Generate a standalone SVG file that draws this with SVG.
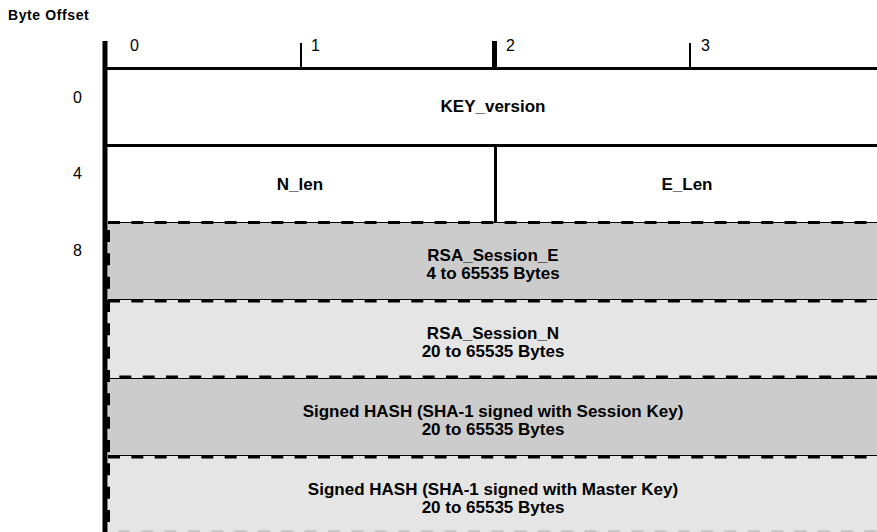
<svg xmlns="http://www.w3.org/2000/svg" width="877" height="532" viewBox="0 0 877 532">
<style>
.t{font-family:"Liberation Sans",Arial,sans-serif;font-size:17px;font-weight:bold;text-anchor:middle;fill:#000}
.n{font-family:"Liberation Sans",Arial,sans-serif;font-size:16px;fill:#000}
.solid{stroke:#000;stroke-width:3;fill:none}
.dash{stroke:#000;stroke-width:3;fill:none;stroke-dasharray:12 11.33}
.thin{stroke:#000;stroke-width:1;fill:none}
.dark{fill:#cccccc}
.light{fill:#e5e5e5}
</style>
<rect width="877" height="532" fill="#fff"/>
<text x="8" y="20" font-family="Liberation Sans,Arial,sans-serif" font-size="14" font-weight="bold" letter-spacing="0.6">Byte Offset</text>
<g id="scale">
<text class="n" x="130" y="51">0</text>
<text class="n" x="311" y="51">1</text>
<text class="n" x="506" y="51">2</text>
<text class="n" x="701" y="51">3</text>
<line x1="301" y1="43" x2="301" y2="68" stroke="#000" stroke-width="2"/>
<line x1="494.5" y1="41" x2="494.5" y2="68" stroke="#000" stroke-width="5"/>
<line x1="690" y1="43" x2="690" y2="68" stroke="#000" stroke-width="2"/>
<text class="n" x="73" y="103">0</text>
<text class="n" x="73" y="179">4</text>
<text class="n" x="73" y="256">8</text>
</g>
<g id="row0">
<text class="t" x="493" y="112">KEY_version</text>
</g>
<g id="row1">
<line x1="495.5" y1="145" x2="495.5" y2="222" stroke="#000" stroke-width="3"/>
<text class="t" x="300" y="190">N_len</text>
<text class="t" x="687" y="190">E_Len</text>
</g>
<g id="row2">
<rect class="dark" x="108" y="222" width="769" height="78"/>
<text class="t" x="493" y="261">RSA_Session_E</text>
<text class="t" x="493" y="279">4 to 65535 Bytes</text>
</g>
<g id="row3">
<rect class="light" x="108" y="300" width="769" height="78"/>
<text class="t" x="493" y="339">RSA_Session_N</text>
<text class="t" x="493" y="357">20 to 65535 Bytes</text>
</g>
<g id="row4">
<rect class="dark" x="108" y="378" width="769" height="78"/>
<text class="t" x="493" y="417">Signed HASH (SHA-1 signed with Session Key)</text>
<text class="t" x="493" y="435">20 to 65535 Bytes</text>
</g>
<g id="row5">
<rect class="light" x="108" y="456" width="769" height="76"/>
<text class="t" x="493" y="495">Signed HASH (SHA-1 signed with Master Key)</text>
<text class="t" x="493" y="513">20 to 65535 Bytes</text>
</g>
<g id="lines">
<line class="solid" x1="105" y1="68.5" x2="877" y2="68.5"/>
<line class="solid" x1="105" y1="145.5" x2="877" y2="145.5"/>
<line class="thin" x1="108" y1="222.5" x2="877" y2="222.5"/>
<line class="dash" x1="108" y1="222.5" x2="877" y2="222.5"/>
<line class="thin" x1="108" y1="299.5" x2="877" y2="299.5"/>
<line class="dash" x1="108" y1="301" x2="877" y2="301"/>
<line class="thin" x1="108" y1="378.5" x2="877" y2="378.5"/>
<line class="dash" x1="108" y1="377" x2="877" y2="377" stroke-dashoffset="12"/>
<line class="thin" x1="108" y1="455.5" x2="877" y2="455.5"/>
<line class="dash" x1="108" y1="457" x2="877" y2="457"/>
<line x1="108" y1="531" x2="877" y2="531" stroke="#c8c8c8" stroke-width="2" stroke-dasharray="12 11.33" stroke-dashoffset="-10"/>
<line class="dash" x1="108.5" y1="222" x2="108.5" y2="532" stroke-dashoffset="-8"/>
<line x1="105" y1="41" x2="105" y2="532" stroke="#000" stroke-width="5"/>
</g>
</svg>
